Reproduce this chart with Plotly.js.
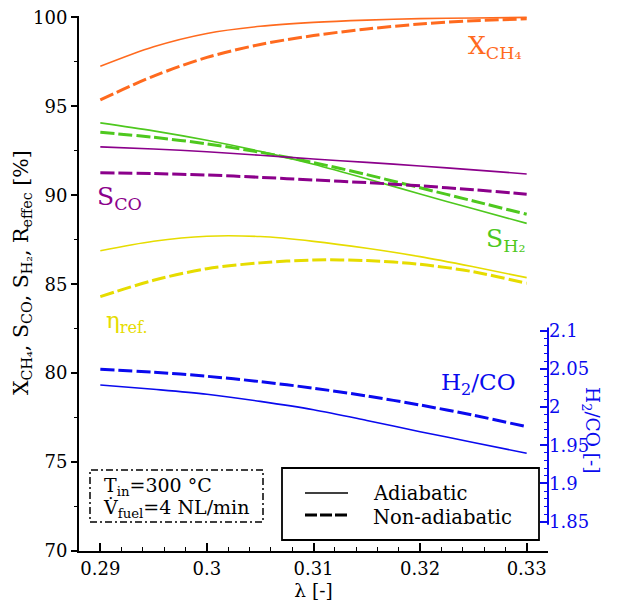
<!DOCTYPE html>
<html>
<head>
<meta charset="utf-8">
<script src="https://cdn.plot.ly/plotly-3.0.1.min.js"></script>
<style>html,body{margin:0;padding:0;background:#fff;}#chart{width:617px;height:604px;}</style>
</head>
<body>
<div id="chart"></div>
<script>
// ---- data ----
const lambda = [0.29, 0.295, 0.30, 0.305, 0.31, 0.315, 0.32, 0.325, 0.33];

const xch4_adiabatic    = [97.25, 98.35, 99.10, 99.50, 99.72, 99.85, 99.93, 99.97, 100.0];
const xch4_nonadiabatic = [95.36, 96.70, 97.75, 98.48, 98.98, 99.35, 99.63, 99.81, 99.92];

const sh2_adiabatic     = [94.07, 93.62, 93.09, 92.47, 91.75, 90.93, 90.07, 89.24, 88.42];
const sh2_nonadiabatic  = [93.54, 93.26, 92.89, 92.42, 91.84, 91.16, 90.42, 89.68, 88.93];

const sco_adiabatic     = [92.72, 92.60, 92.45, 92.25, 92.04, 91.85, 91.65, 91.43, 91.20];
const sco_nonadiabatic  = [91.27, 91.22, 91.14, 91.01, 90.86, 90.71, 90.53, 90.31, 90.06];

const eta_adiabatic     = [86.88, 87.42, 87.70, 87.68, 87.41, 87.02, 86.55, 85.98, 85.37];
const eta_nonadiabatic  = [84.30, 85.22, 85.87, 86.20, 86.36, 86.33, 86.12, 85.70, 85.05];

const h2co_adiabatic    = [2.0289, 2.0233, 2.0168, 2.0075, 1.9965, 1.9825, 1.9678, 1.9537, 1.9395];
const h2co_nonadiabatic = [2.0495, 2.0457, 2.0403, 2.0333, 2.0247, 2.0145, 2.0027, 1.9893, 1.9743];

const xTickVals = [0.29, 0.30, 0.31, 0.32, 0.33];
const xTickText = ['0.29', '0.3', '0.31', '0.32', '0.33'];
const yTickVals = [70, 75, 80, 85, 90, 95, 100];
const y2TickVals = [1.85, 1.9, 1.95, 2.0, 2.05, 2.1];
const y2TickText = ['1.85', '1.9', '1.95', '2', '2.05', '2.1'];
const y2MinorVals = [1.85,1.86,1.87,1.88,1.89,1.90,1.91,1.92,1.93,1.94,1.95,1.96,1.97,1.98,1.99,2.00,2.01,2.02,2.03,2.04,2.05,2.06,2.07,2.08,2.09,2.10];

// ---- styling ----
const C = {orange:'#ff6a1e', green:'#4ec81e', purple:'#8b008b', yellow:'#e6dc00', blue:'#0a0aee'};
const FONT = "'DejaVu Serif', serif";
const SOLID_W = 1.6, DASH_W = 3, DASH = '14px,4px';

// layout geometry in px
const W = 617, H = 604, L = 79, R = 69, T = 16, B = 53;
const PW = W - L - R, PH = H - T - B;
const px = x => (x - L) / PW;
const py = y => (H - B - y) / PH;

function tr(x, y, color, dashed, yaxis) {
  return {
    x: x, y: y, type: 'scatter', mode: 'lines', yaxis: yaxis || 'y',
    line: {color: color, width: dashed ? DASH_W : SOLID_W, dash: dashed ? DASH : 'solid', shape: 'spline', smoothing: 0.9},
    showlegend: false, hoverinfo: 'skip'
  };
}

const data = [
  tr(lambda, xch4_adiabatic, C.orange, false),
  tr(lambda, xch4_nonadiabatic, C.orange, true),
  tr(lambda, sh2_adiabatic, C.green, false),
  tr(lambda, sh2_nonadiabatic, C.green, true),
  tr(lambda, sco_adiabatic, C.purple, false),
  tr(lambda, sco_nonadiabatic, C.purple, true),
  tr(lambda, eta_adiabatic, C.yellow, false),
  tr(lambda, eta_nonadiabatic, C.yellow, true),
  tr(lambda, h2co_adiabatic, C.blue, false, 'y2'),
  tr(lambda, h2co_nonadiabatic, C.blue, true, 'y2')
];

function ann(text, x, y, color, size, extra) {
  return Object.assign({
    text: text, xref: 'paper', yref: 'paper', x: px(x), y: py(y),
    xanchor: 'center', yanchor: 'middle', showarrow: false,
    font: {family: FONT, size: size, color: color}
  }, extra || {});
}

const annotations = [
  ann('X<sub>CH₄</sub>', 494, 47, C.orange, 25),
  ann('S<sub>CO</sub>', 119, 198, C.purple, 25),
  ann('S<sub>H₂</sub>', 505, 240, C.green, 25),
  ann('η<sub>ref.</sub>', 127, 322, C.yellow, 23),
  ann('H<sub>2</sub>/CO', 478, 384, C.blue, 23),
  ann('X<sub>CH₄</sub>, S<sub>CO</sub>, S<sub>H₂</sub>, R<sub>effec</sub> [%]', 22, 273, '#000', 20.5, {textangle: -90}),
  ann('H<sub>2</sub>/CO [-]', 591, 430, C.blue, 18.5, {textangle: 90}),
  ann('T<sub>in</sub>=300 °C', 102, 486, '#000', 19, {xanchor: 'left'}),
  ann('V̇<sub>fuel</sub>=4 NL/min', 101, 508, '#000', 19, {xanchor: 'left'}),
  ann('Adiabatic', 371, 493, '#000', 19.5, {xanchor: 'left'}),
  ann('Non-adiabatic', 371, 517, '#000', 19.5, {xanchor: 'left'})
];

const shapes = [
  // right axis line (only over the labelled range)
  {type: 'line', xref: 'paper', yref: 'y2', x0: 1, x1: 1, y0: 1.846, y1: 2.104, line: {color: C.blue, width: 2}},
  // condition box (dash-dot)
  {type: 'rect', xref: 'paper', yref: 'paper', x0: px(90), x1: px(263), y0: py(522), y1: py(470),
   line: {color: '#000', width: 1.5, dash: '7px,3px,2px,3px'}, fillcolor: 'rgba(0,0,0,0)'},
  // legend box
  {type: 'rect', xref: 'paper', yref: 'paper', x0: px(282), x1: px(539), y0: py(540), y1: py(468),
   line: {color: '#000', width: 1.8}, fillcolor: '#fff', layer: 'above'},
  {type: 'line', xref: 'paper', yref: 'paper', x0: px(305), x1: px(348), y0: py(493), y1: py(493),
   line: {color: '#000', width: 1.6}},
  {type: 'line', xref: 'paper', yref: 'paper', x0: px(305), x1: px(348), y0: py(515), y1: py(515),
   line: {color: '#000', width: 3, dash: '12px,3px'}}
];

const layout = {
  width: W, height: H,
  margin: {l: L, r: R, t: T, b: B, pad: 0},
  paper_bgcolor: '#fff', plot_bgcolor: '#fff',
  font: {family: FONT, size: 18, color: '#000'},
  showlegend: false,
  xaxis: {
    range: [0.288, 0.332], showgrid: false, zeroline: false,
    showline: true, linecolor: '#000', linewidth: 2,
    tickmode: 'array', tickvals: xTickVals, ticktext: xTickText,
    ticks: 'inside', ticklen: 8, tickwidth: 1.5, tickcolor: '#000',
    minor: {dtick: 0.002, tick0: 0.29, ticks: 'inside', ticklen: 4, tickwidth: 1.2, tickcolor: '#000'},
    tickfont: {family: FONT, size: 18, color: '#000'},
    title: {text: 'λ [-]', font: {family: FONT, size: 18.5, color: '#000'}, standoff: 6}
  },
  yaxis: {
    range: [70, 100.08], showgrid: false, zeroline: false,
    showline: true, linecolor: '#000', linewidth: 2,
    tickmode: 'array', tickvals: yTickVals,
    ticks: 'outside', ticklen: 6, tickwidth: 1.5, tickcolor: '#000',
    minor: {dtick: 2.5, tick0: 70, ticks: 'outside', ticklen: 3, tickwidth: 1.2, tickcolor: '#000'},
    tickfont: {family: FONT, size: 18, color: '#000'}
  },
  yaxis2: {
    overlaying: 'y', side: 'right', anchor: 'x',
    range: [1.8116, 2.5119], showgrid: false, zeroline: false, showline: false,
    tickmode: 'array', tickvals: y2TickVals, ticktext: y2TickText,
    ticks: 'inside', ticklen: 8, tickwidth: 1.5, tickcolor: C.blue,
    minor: {tickmode: 'array', tickvals: y2MinorVals, ticks: 'inside', ticklen: 4, tickwidth: 1.2, tickcolor: C.blue},
    tickfont: {family: FONT, size: 18, color: C.blue}
  },
  annotations: annotations,
  shapes: shapes
};

Plotly.newPlot('chart', data, layout, {displayModeBar: false});
</script>
</body>
</html>
